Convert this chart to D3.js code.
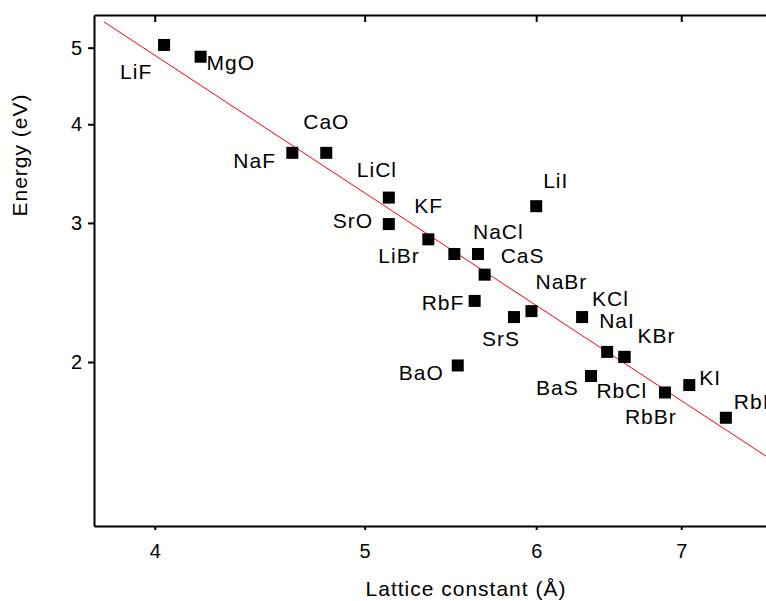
<!DOCTYPE html>
<html>
<head>
<meta charset="utf-8">
<script src="https://cdn.jsdelivr.net/npm/d3@7"></script>
<style>
  body { margin: 0; background: #fff; }
  svg text { font-family: "Liberation Sans", Arial, sans-serif; fill: #000; }
  .axis path, .axis line { stroke: #000; stroke-width: 2px; }
  .axis text { font-size: 20px; }
  .point-label { font-size: 21px; letter-spacing: 1px; }
  .axis-title { font-size: 21px; letter-spacing: 1px; }
</style>
</head>
<body>
<div id="chart"></div>
<script>
// Compounds, lattice constant (Å) and energy (eV)
const compounds = ["LiF", "MgO", "NaF", "CaO", "LiCl", "SrO", "KF", "LiBr", "NaCl", "CaS", "LiI",
  "RbF", "SrS", "NaBr", "KCl", "NaI", "KBr", "BaO", "BaS", "RbCl", "RbBr", "KI", "RbI"];
const latticeConstants = [4.04, 4.20, 4.63, 4.80, 5.13, 5.13, 5.35, 5.50, 5.64, 5.68, 6.00,
  5.62, 5.86, 5.97, 6.30, 6.47, 6.59, 5.52, 6.36, 6.59, 6.88, 7.06, 7.34];
const energies = [5.04, 4.87, 3.68, 3.68, 3.23, 2.99, 2.86, 2.74, 2.74, 2.58, 3.15,
  2.39, 2.28, 2.32, 2.28, 2.06, 2.03, 1.98, 1.92, 2.03, 1.83, 1.87, 1.70];

// Fitted power-law line (two end points in data units)
const fitLine = [[3.79, 5.39], [7.66, 1.52]];

const xTicks = [4, 5, 6, 7];
const yTicks = [2, 3, 4, 5];

// Hand placement of each label relative to its square (pixels, start anchor / baseline)
const labelOffsets = [[-44, 34], [6, 13], [-59, 15], [-23, -24], [-32, -21], [-56, 4], [-14, -26],
  [-76, 9], [-5, -15], [16, -12], [7, -18], [-53, 9], [-32, 29], [4, -22], [10, -11], [-8, -24],
  [13, -14], [-59, 15], [-55, 19], [-28, 41], [-40, 32], [10, 0], [8, -9]];

const data = compounds.map((name, i) => ({
  name: name,
  a: latticeConstants[i],
  e: energies[i],
  offset: labelOffsets[i]
}));

const width = 766, height = 601;
const margin = { top: 15, right: 0, bottom: 75, left: 94 };

const svg = d3.select("#chart")
  .append("svg")
  .attr("width", width)
  .attr("height", height);

// Scales: both axes logarithmic
const x = d3.scaleLog()
  .domain([3.75, 7.66])
  .range([margin.left, width - margin.right]);

const y = d3.scaleLog()
  .domain([1.24, 5.50])
  .range([height - margin.bottom, margin.top]);

svg.append("clipPath")
  .attr("id", "clip")
  .append("rect")
  .attr("x", margin.left)
  .attr("y", margin.top)
  .attr("width", width - margin.left - margin.right)
  .attr("height", height - margin.top - margin.bottom);

// Fit line
const line = d3.line()
  .x(d => x(d[0]))
  .y(d => y(d[1]));

svg.append("path")
  .datum(fitLine)
  .attr("d", line)
  .attr("fill", "none")
  .attr("stroke", "#ff0000")
  .attr("stroke-width", 1)
  .attr("clip-path", "url(#clip)");

// Squares
const size = 12;
svg.append("g")
  .selectAll("rect")
  .data(data)
  .join("rect")
  .attr("x", d => x(d.a) - size / 2)
  .attr("y", d => y(d.e) - size / 2)
  .attr("width", size)
  .attr("height", size)
  .attr("fill", "#000");

// Labels
svg.append("g")
  .selectAll("text")
  .data(data)
  .join("text")
  .attr("class", "point-label")
  .attr("x", d => x(d.a) + d.offset[0])
  .attr("y", d => y(d.e) + d.offset[1])
  .text(d => d.name);

// Axes
const xAxis = d3.axisBottom(x)
  .tickValues(xTicks)
  .tickFormat(d3.format("d"))
  .tickSize(4)
  .tickSizeOuter(0)
  .tickPadding(14);

const xAxisTop = d3.axisTop(x)
  .tickValues(xTicks)
  .tickFormat("")
  .tickSize(-7)
  .tickSizeOuter(0);

const yAxis = d3.axisLeft(y)
  .tickValues(yTicks)
  .tickFormat(d3.format("d"))
  .tickSize(6)
  .tickSizeOuter(0)
  .tickPadding(6);

svg.append("g")
  .attr("class", "x-axis axis")
  .attr("transform", "translate(0," + (height - margin.bottom) + ")")
  .call(xAxis);

svg.append("g")
  .attr("class", "x-axis-top axis")
  .attr("transform", "translate(0," + margin.top + ")")
  .call(xAxisTop);

svg.append("g")
  .attr("class", "y-axis axis")
  .attr("transform", "translate(" + margin.left + ",0)")
  .call(yAxis);

svg.selectAll(".axis text").attr("font-family", null).attr("font-size", null);

// Axis titles
svg.append("text")
  .attr("class", "axis-title")
  .attr("x", 466)
  .attr("y", 596)
  .attr("text-anchor", "middle")
  .text("Lattice constant (Å)");

svg.append("text")
  .attr("class", "axis-title")
  .attr("transform", "translate(27,155) rotate(-90)")
  .attr("text-anchor", "middle")
  .text("Energy (eV)");
</script>
</body>
</html>
